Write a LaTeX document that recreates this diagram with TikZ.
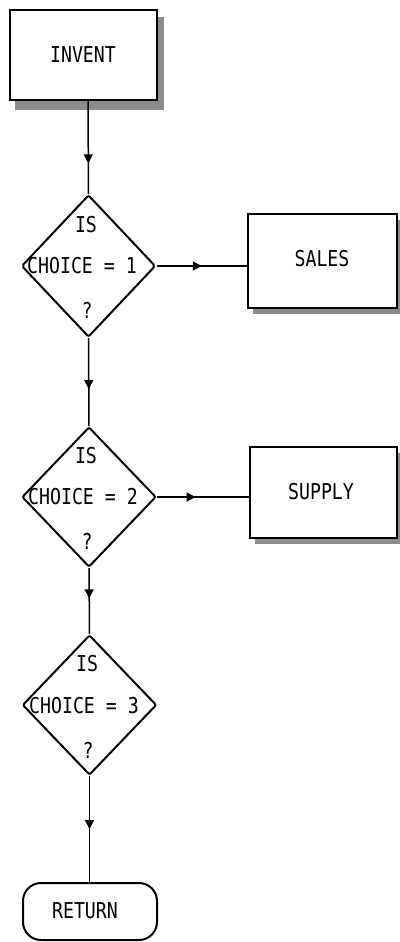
\documentclass[tikz,border=0pt]{standalone}
\usepackage{fontspec}
\usepackage{graphicx}
\setmonofont{DejaVu Sans Mono}
\usetikzlibrary{shapes.geometric,arrows.meta,decorations.markings}
\newcommand{\lbl}[1]{\scalebox{1}[1.2]{\ttfamily\fontsize{18.2}{20}\selectfont #1}}
\begin{document}
\begin{tikzpicture}[x=1pt,y=-1pt,
  procbox/.style={draw=black,line width=2pt,fill=white,inner sep=0pt},
  shadowbox/.style={fill=black!45,draw=none},
  decide/.style={draw=black,line width=2pt,shape=diamond,minimum width=134pt,minimum height=142pt,inner sep=0pt,rounded corners=2pt},
  termbox/.style={draw=black,line width=2pt,rounded corners=18pt,inner sep=0pt},
  flow/.style={line width=1.5pt,postaction={decorate}},
  tipat/.style={decoration={markings,mark=at position #1 with {\arrow{Triangle[length=9pt,width=9pt]}}}}
]
\useasboundingbox (0,0) rectangle (399,942);
% INVENT
\fill[shadowbox] (15,17) rectangle (164,110);
\node[procbox,minimum width=147pt,minimum height=90pt] (invent) at (83.5,55) {};
\node at (83,55) {\lbl{INVENT}};
% SALES
\fill[shadowbox] (253,220) rectangle (403,314);
\node[procbox,minimum width=149pt,minimum height=94pt] (sales) at (322.5,261) {};
\node at (322,259) {\lbl{SALES}};
% SUPPLY
\fill[shadowbox] (255,453) rectangle (403,544);
\node[procbox,minimum width=147pt,minimum height=91pt] (supply) at (323.5,492.5) {};
\node at (321,492) {\lbl{SUPPLY}};
% Diamonds
\node[decide] (d1) at (88.5,266) {};
\node at (86,225) {\lbl{IS}};
\node at (82,266) {\lbl{CHOICE = 1}};
\node at (87,310) {\lbl{?}};
\node[decide,minimum height=140pt] (d2) at (89,497) {};
\node at (86,456) {\lbl{IS}};
\node at (83,497) {\lbl{CHOICE = 2}};
\node at (87,541) {\lbl{?}};
\node[decide,minimum height=140pt] (d3) at (89.5,705) {};
\node at (87,664) {\lbl{IS}};
\node at (84,706) {\lbl{CHOICE = 3}};
\node at (88,750) {\lbl{?}};
% RETURN
\node[termbox,minimum width=134pt,minimum height=57pt] (ret) at (90,911.5) {};
\node at (85,911) {\lbl{RETURN}};
% connectors
\coordinate (c1) at (88,100);
\draw[flow,tipat=0.67] (invent.south -| c1) -- (d1.north);
\draw[flow,tipat=0.58] (d1.south) -- (d2.north);
\draw[flow,tipat=0.46] (d2.south) -- (d3.north);
\draw[flow,tipat=0.50] (d3.south) -- (d3.south |- ret.north);
\draw[flow,tipat=0.50] (d1.east) -- (d1.east -| sales.west);
\draw[flow,tipat=0.42] (d2.east) -- (d2.east -| supply.west);
\end{tikzpicture}
\end{document}
